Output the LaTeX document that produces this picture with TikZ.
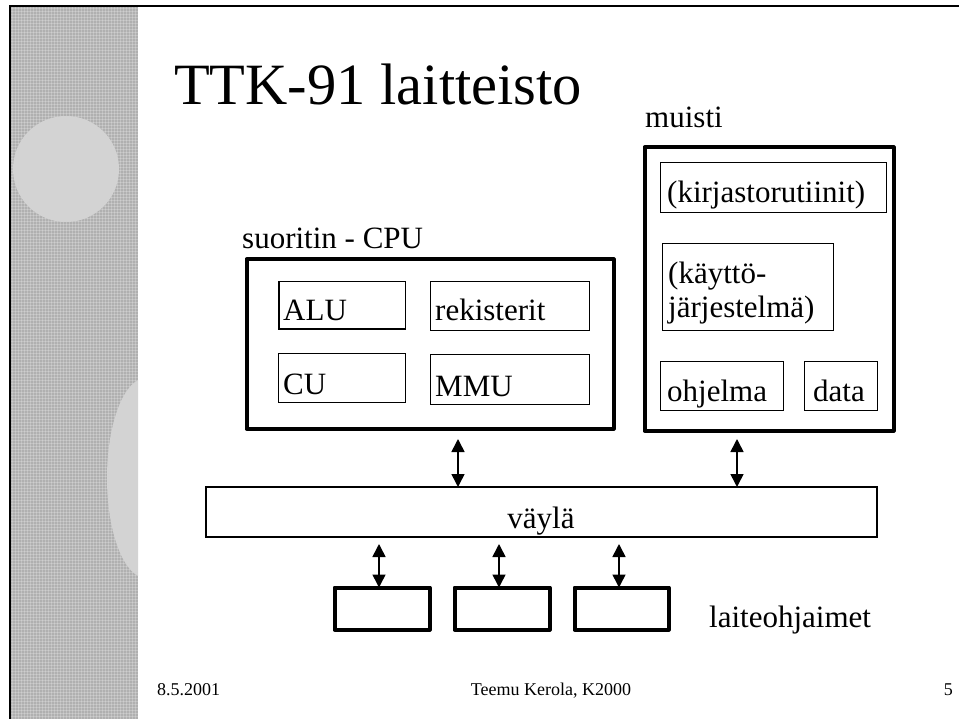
\documentclass[tikz,border=0pt]{standalone}
\usepackage{fontspec}
\setmainfont{Liberation Serif}
\usetikzlibrary{arrows.meta}
\definecolor{stripegray}{RGB}{176,176,176}
\definecolor{blobgray}{RGB}{211,211,211}
\begin{document}
\begin{tikzpicture}[x=1pt,y=-1pt,
  box/.style={draw, rectangle, inner sep=0pt, outer sep=0pt},
  thickbox/.style={box, line width=4pt, line join=round},
  thinbox/.style={box, line width=1.5pt},
  busbox/.style={box, line width=2pt},
  devbox/.style={box, line width=4pt, line join=round},
  txt/.style={inner sep=0pt, anchor=base west, font=\fontsize{31}{34}\selectfont},
  foot/.style={inner sep=0pt, font=\fontsize{18}{21}\selectfont},
  arr/.style={{Triangle[width=13pt,length=13pt]}-{Triangle[width=13pt,length=13pt]}, line width=1.6pt}]
\useasboundingbox (0,0) rectangle (959,719);
\fill[white] (0,0) rectangle (959,719);
% textured stripe
\begin{scope}
  \clip (11,7) rectangle (138,719);
  \fill[stripegray] (11,7) rectangle (138,719);
  \foreach \i in {12,15,...,138} \draw[white, opacity=.22, line width=.8pt] (\i,7) -- (\i,719);
  \foreach \j in {8,11,...,719} \draw[white, opacity=.22, line width=.8pt] (11,\j) -- (138,\j);
  \fill[blobgray] (66,169) circle[radius=53];
  \fill[blobgray] (146,478) ellipse[x radius=39, y radius=100];
\end{scope}
% frame
\draw[line width=2pt] (10,719) -- (10,6) -- (959,6);
% title and labels
\node[inner sep=0pt, anchor=base west, font=\fontsize{58.5}{62}\selectfont] (title) at (174,105) {TTK-91 laitteisto};
\node[txt] (lmuisti) at (645,128) {muisti};
\node[txt] (lcpu) at (242,249) {suoritin - CPU};
% CPU
\node[thickbox, minimum width=367pt, minimum height=169pt] (cpu) at (430,344) {};
\node[thinbox, minimum width=126.5pt, minimum height=47.5pt] (alu) at (342,305.5) {};
\node[thinbox, minimum width=159pt, minimum height=49pt] (rek) at (510,306) {};
\node[thinbox, minimum width=127pt, minimum height=49pt] (cu) at (342,378) {};
\node[thinbox, minimum width=159pt, minimum height=50pt] (mmu) at (510,379.5) {};
\node[txt] (talu) at (283,321) {ALU};
\node[txt] (trek) at (435,321) {rekisterit};
\node[txt] (tcu) at (283,395) {CU};
\node[txt] (tmmu) at (435,396) {MMU};
% memory
\node[thickbox, minimum width=249pt, minimum height=283pt] (mem) at (769,289) {};
\node[thinbox, minimum width=226pt, minimum height=50pt] (kirj) at (773.5,187.5) {};
\node[thinbox, minimum width=171pt, minimum height=87pt] (kay) at (748,287) {};
\node[thinbox, minimum width=123pt, minimum height=49pt] (ohj) at (722,386) {};
\node[thinbox, minimum width=73pt, minimum height=49pt] (dat) at (841,386) {};
\node[txt] (tkirj) at (667,203) {(kirjastorutiinit)};
\node[txt] (tkay1) at (668,284) {(käyttö-};
\node[txt] (tkay2) at (668,318) {järjestelmä)};
\node[txt] (tohj) at (667,402) {ohjelma};
\node[txt] (tdat) at (813,402) {data};
% bus
\node[busbox, minimum width=671pt, minimum height=50pt] (bus) at (541.5,512) {};
\node[txt, anchor=base] (tbus) at (541,528) {väylä};
% device controllers
\node[devbox, minimum width=95pt, minimum height=42pt] (d1) at (382,608.5) {};
\node[devbox, minimum width=95pt, minimum height=42pt] (d2) at (502,608.5) {};
\node[devbox, minimum width=94pt, minimum height=42pt] (d3) at (621.5,608.5) {};
\node[txt] (tdev) at (709,627) {laiteohjaimet};
% arrows
\coordinate (c1) at (458,439);
\coordinate (c2) at (737,439);
\coordinate (c3) at (379,544);
\coordinate (c4) at (499,544);
\coordinate (c5) at (619,544);
\draw[arr] (c1) -- (c1 |- bus.north);
\draw[arr] (c2) -- (c2 |- bus.north);
\draw[arr] (c3) -- (c3 |- d1.north);
\draw[arr] (c4) -- (c4 |- d2.north);
\draw[arr] (c5) -- (c5 |- d3.north);
% footer
\node[foot, anchor=base west] (fdate) at (157,695) {8.5.2001};
\node[foot, anchor=base] (fauth) at (551,695) {Teemu Kerola, K2000};
\node[foot, anchor=base east] (fpage) at (953,695) {5};
\end{tikzpicture}
\end{document}
